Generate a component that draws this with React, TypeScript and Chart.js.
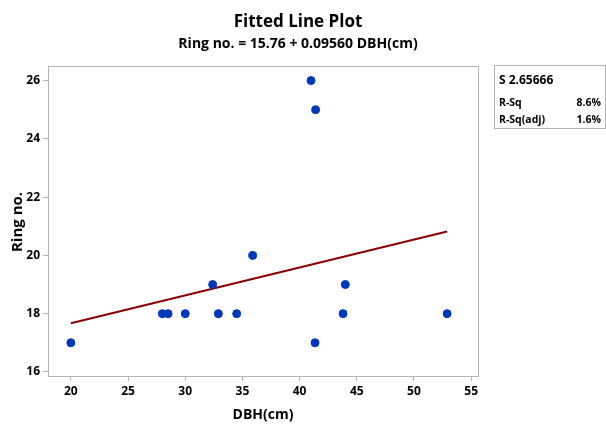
import React, { useEffect, useRef } from "react";
import { Chart, registerables } from "chart.js";

Chart.register(...registerables);

const titleText = "Fitted Line Plot";
const subtitleText = "Ring no. = 15.76 + 0.09560 DBH(cm)";
const xAxisTitle = "DBH(cm)";
const yAxisTitle = "Ring no.";

const dbh = [20, 28, 28.5, 30, 32.4, 32.9, 34.5, 35.9, 41, 41.4, 41.35, 43.8, 44, 52.9];
const rings = [17, 18, 18, 18, 19, 18, 18, 20, 26, 25, 17, 18, 19, 18];

const intercept = 15.76;
const slope = 0.0956;

const xTicks = [20, 25, 30, 35, 40, 45, 50, 55];
const yTicks = [16, 18, 20, 22, 24, 26];

const statLabels = ["S 2.65666", "R-Sq", "R-Sq(adj)"];
const statValues = ["", "8.6%", "1.6%"];

const FONT = "'Open Sans', 'DejaVu Sans', sans-serif";

export default function App() {
  const ref = useRef<HTMLCanvasElement>(null);

  useEffect(() => {
    if (!ref.current) return;
    const xMinData = Math.min(...dbh);
    const xMaxData = Math.max(...dbh);
    const fitLine = [
      { x: xMinData, y: intercept + slope * xMinData },
      { x: xMaxData, y: intercept + slope * xMaxData },
    ];

    const overlay = {
      id: "overlay",
      afterDraw(chart: any) {
        const ctx = chart.ctx;
        const a = chart.chartArea;
        ctx.save();
        ctx.strokeStyle = "#b4b4b4";
        ctx.lineWidth = 1;
        ctx.strokeRect(Math.round(a.left) + 0.5, Math.round(a.top) + 0.5, Math.round(a.right - a.left), Math.round(a.bottom - a.top));
        ctx.fillStyle = "#000";
        ctx.textAlign = "center";
        ctx.textBaseline = "middle";
        ctx.font = `bold 17px ${FONT}`;
        ctx.fillText(titleText, 298, 22);
        ctx.font = `bold 14px ${FONT}`;
        ctx.fillText(subtitleText, 298, 44);
        ctx.font = `bold 14px ${FONT}`;
        ctx.fillText(xAxisTitle, (a.left + a.right) / 2, 415);
        ctx.save();
        ctx.translate(18, 222);
        ctx.rotate(-Math.PI / 2);
        ctx.font = `bold 15px ${FONT}`;
        ctx.fillText(yAxisTitle, 0, 0);
        ctx.restore();
        ctx.strokeStyle = "#b4b4b4";
        ctx.strokeRect(494.5, 65.5, 111, 63);
        ctx.textAlign = "left";
        ctx.font = `bold 12px ${FONT}`;
        ctx.fillText(statLabels[0], 499, 81);
        ctx.font = `bold 10.5px ${FONT}`;
        ctx.fillText(statLabels[1], 499, 103);
        ctx.fillText(statLabels[2], 499, 120);
        ctx.textAlign = "right";
        ctx.fillText(statValues[1], 601, 103);
        ctx.fillText(statValues[2], 601, 120);
        ctx.restore();
      },
    };

    const chart = new Chart(ref.current, {
      type: "scatter",
      data: {
        datasets: [
          {
            type: "line",
            data: fitLine,
            borderColor: "#8b0000",
            borderWidth: 2,
            pointRadius: 0,
            fill: false,
            order: 2,
          } as any,
          {
            type: "scatter",
            data: dbh.map((x, i) => ({ x, y: rings[i] })),
            backgroundColor: "#0038b8",
            borderColor: "#0038b8",
            borderWidth: 1,
            pointRadius: 4,
            order: 1,
          },
        ],
      },
      options: {
        animation: false,
        responsive: false,
        maintainAspectRatio: false,
        layout: { padding: { left: 0, top: 66, right: 128, bottom: 0 } },
        plugins: { legend: { display: false }, title: { display: false }, tooltip: { enabled: false } },
        scales: {
          x: {
            type: "linear",
            min: 18,
            max: 55.6,
            afterFit: (s: any) => { s.height = 49; },
            afterBuildTicks: (s: any) => { s.ticks = xTicks.map((v) => ({ value: v })); },
            grid: { drawOnChartArea: false, drawTicks: true, tickLength: 5, color: "#b4b4b4" },
            border: { display: true, color: "#b4b4b4" },
            ticks: { color: "#000", font: { family: FONT, size: 12, weight: "bold" }, padding: 3, maxRotation: 0 },
          },
          y: {
            type: "linear",
            min: 15.86,
            max: 26.5,
            afterFit: (s: any) => { s.width = 48; },
            afterBuildTicks: (s: any) => { s.ticks = yTicks.map((v) => ({ value: v })); },
            grid: { drawOnChartArea: false, drawTicks: true, tickLength: 5, color: "#b4b4b4" },
            border: { display: true, color: "#b4b4b4" },
            ticks: { color: "#000", font: { family: FONT, size: 12, weight: "bold" }, padding: 3 },
          },
        },
      },
      plugins: [overlay],
    } as any);
    return () => chart.destroy();
  }, []);

  return (
    <div style={{ position: "fixed", left: 0, top: 0, width: 606, height: 425, background: "#fff" }}>
      <canvas ref={ref} width={606} height={425} style={{ width: 606, height: 425 }} />
    </div>
  );
}
